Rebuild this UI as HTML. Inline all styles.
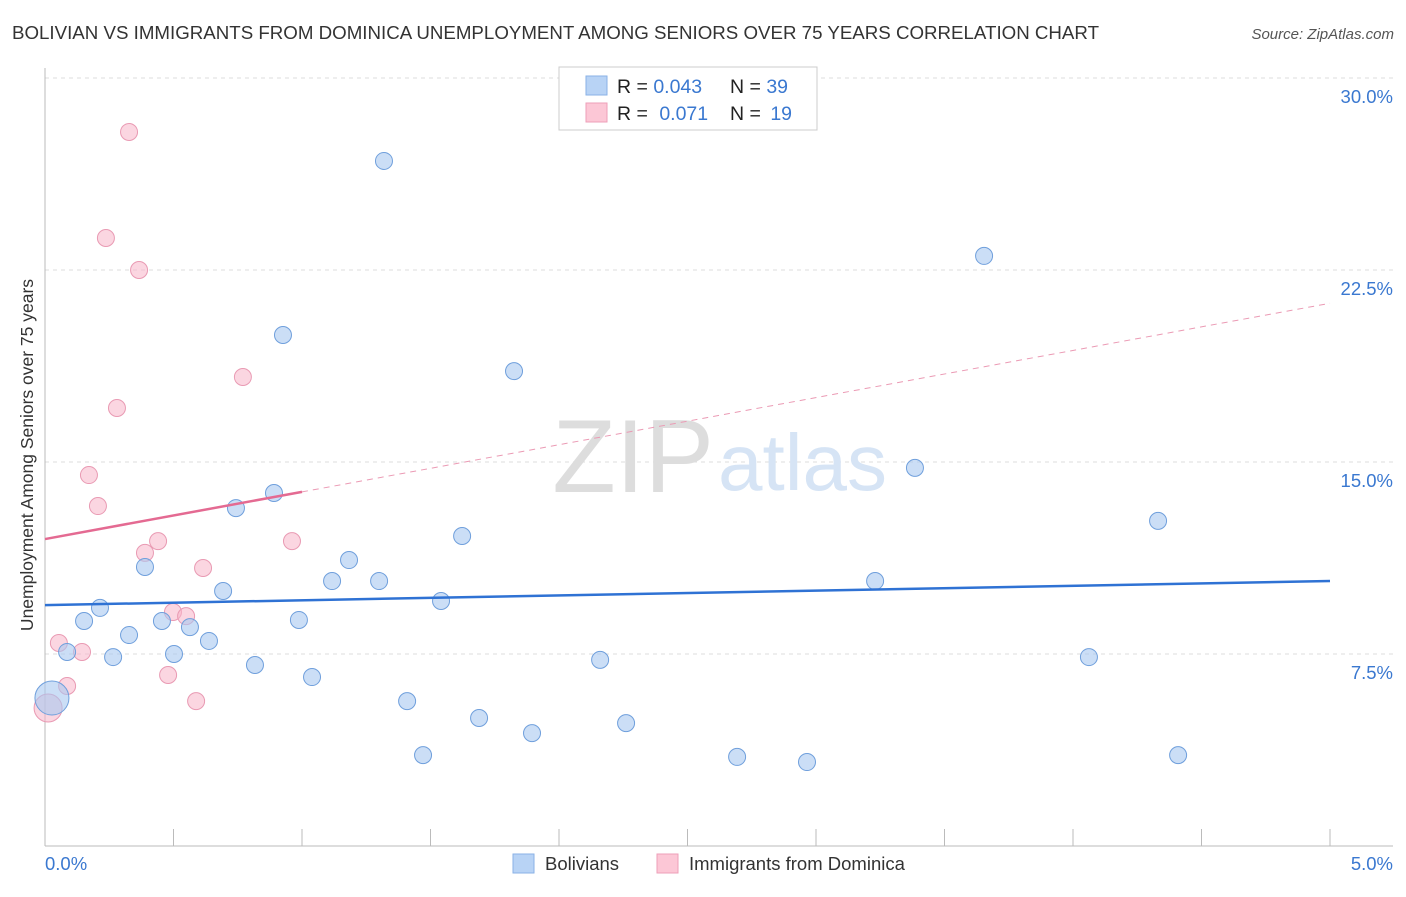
<!DOCTYPE html>
<html><head><meta charset="utf-8"><style>
body{margin:0;background:#fff;font-family:"Liberation Sans",sans-serif;}
svg text{font-family:"Liberation Sans",sans-serif;}
</style></head><body>
<svg id="c" width="1406" height="892" xmlns="http://www.w3.org/2000/svg">
<text x="12" y="39" font-size="18.3" fill="#333" textLength="1087" lengthAdjust="spacingAndGlyphs">BOLIVIAN VS IMMIGRANTS FROM DOMINICA UNEMPLOYMENT AMONG SENIORS OVER 75 YEARS CORRELATION CHART</text>
<text x="1394" y="39" font-size="15" fill="#555" text-anchor="end" font-style="italic">Source: ZipAtlas.com</text>
<g id="grid"></g>
<text x="714" y="492" font-size="104" fill="#ddd" text-anchor="end" font-family="Liberation Serif">ZIP</text>
<text x="718" y="490" font-size="80" fill="#d6e4f5">atlas</text>
<g id="marks"></g>
<text transform="translate(33,455) rotate(-90)" font-size="17.5" fill="#333" text-anchor="middle">Unemployment Among Seniors over 75 years</text>
<g>
<rect x="559" y="67" width="258" height="63" fill="#fff" stroke="#ccc"/>
<rect x="586" y="76" width="21" height="19" fill="#b8d3f5" stroke="#8ab2e6"/>
<rect x="586" y="103" width="21" height="19" fill="#fcc7d6" stroke="#ee9fb8"/>
<text x="617" y="93" font-size="19.5" fill="#222">R = <tspan fill="#3a78d0">0.043</tspan></text>
<text x="730" y="93" font-size="19.5" fill="#222">N = <tspan fill="#3a78d0">39</tspan></text>
<text x="617" y="120" font-size="19.5" fill="#222">R = <tspan fill="#3a78d0" dx="6">0.071</tspan></text>
<text x="730" y="120" font-size="19.5" fill="#222">N = <tspan fill="#3a78d0" dx="4">19</tspan></text>
</g>
<g>
<rect x="513" y="854" width="21" height="19" fill="#b8d3f5" stroke="#8ab2e6"/>
<text x="545" y="870" font-size="18.5" fill="#333">Bolivians</text>
<rect x="657" y="854" width="21" height="19" fill="#fcc7d6" stroke="#ee9fb8"/>
<text x="689" y="870" font-size="18.5" fill="#333">Immigrants from Dominica</text>
</g>
</svg>
<script>
const blueX=[0.027,0.086,0.152,0.214,0.265,0.327,0.389,0.455,0.502,0.564,0.638,0.693,0.743,0.817,0.891,0.926,0.988,1.039,1.117,1.183,1.300,1.319,1.409,1.471,1.541,1.623,1.689,1.825,1.895,2.160,2.261,2.693,2.965,3.230,3.385,3.654,4.062,4.331,4.409];
const blueY=[5.78,7.58,8.79,9.30,7.38,8.24,10.90,8.79,7.50,8.55,8.01,9.96,13.20,7.07,13.79,19.96,8.83,6.60,10.35,11.17,10.35,26.76,5.66,3.55,9.57,12.11,5.00,18.55,4.41,7.27,4.80,3.48,3.28,10.35,14.77,23.05,7.38,12.70,3.55];
const pinkX=[0.012,0.054,0.086,0.144,0.171,0.206,0.237,0.280,0.327,0.366,0.389,0.440,0.479,0.498,0.549,0.588,0.615,0.770,0.961];
const pinkY=[5.39,7.93,6.25,7.58,14.49,13.28,23.75,17.11,27.89,22.50,11.45,11.91,6.68,9.14,8.98,5.66,10.86,18.32,11.91];
const blueTrend=[9.41,10.35];
const pinkTrend=[11.99,21.2];
const pinkSolidEnd=1.0;
const yTicks=[7.5,15,22.5,30];
const yTickLabels=["7.5%","15.0%","22.5%","30.0%"];
const NS="http://www.w3.org/2000/svg";
const sx=v=>45+v/5*1285, sy=v=>846-v*25.6;
function mk(tag,attrs,parent){const e=document.createElementNS(NS,tag);for(const k in attrs)e.setAttribute(k,attrs[k]);parent.appendChild(e);return e;}
const grid=document.getElementById('grid'), marks=document.getElementById('marks');
yTicks.forEach((t,i)=>{
 const l=mk('line',{x1:45,x2:1393,y1:sy(t),y2:sy(t),stroke:'#ddd','stroke-dasharray':'4,4'},grid);
 
 
 const tx=mk('text',{x:1393,y:sy(t)+25,'font-size':18.5,fill:'#3a78d0','text-anchor':'end'},grid);
 tx.textContent=yTickLabels[i];
 
 
});
const ax=mk('line',{x1:45,x2:45,y1:68,y2:846,stroke:'#bbb'},grid);


const bx=mk('line',{x1:45,x2:1393,y1:846,y2:846,stroke:'#bbb'},grid);


for(let i=0;i<=10;i++){
 const t=mk('line',{x1:sx(i*0.5),x2:sx(i*0.5),y1:829,y2:846,stroke:'#bbb'},grid);
 
 
}
[[0,"0.0%","start",45],[5,"5.0%","end",1393]].forEach(d=>{
 const t=mk('text',{x:d[3],y:870,'font-size':18.5,fill:'#3a78d0','text-anchor':d[2]},grid);
 t.textContent=d[1];
 
 
});
pinkX.forEach((x,i)=>{
 const c=mk('circle',{cx:sx(x),cy:sy(pinkY[i]),r:i==0?14:8.5,fill:'rgba(248,180,200,0.55)',stroke:'#e99ab3','stroke-width':1},marks);
 
 
});
blueX.forEach((x,i)=>{
 const c=mk('circle',{cx:sx(x),cy:sy(blueY[i]),r:i==0?17:8.5,fill:'rgba(168,200,240,0.6)',stroke:'#6f9fdc','stroke-width':1},marks);
 
 
});
const bl=mk('line',{x1:sx(0),y1:sy(blueTrend[0]),x2:sx(5),y2:sy(blueTrend[1]),stroke:'#2f72d4','stroke-width':2.5},marks);


const py=x=>pinkTrend[0]+(pinkTrend[1]-pinkTrend[0])*x/5;
const pd=mk('line',{x1:sx(pinkSolidEnd),y1:sy(py(pinkSolidEnd)),x2:sx(5),y2:sy(py(5)),stroke:'#eb9ab4','stroke-width':1,'stroke-dasharray':'6,5'},marks);


const ps=mk('line',{x1:sx(0),y1:sy(py(0)),x2:sx(pinkSolidEnd),y2:sy(py(pinkSolidEnd)),stroke:'#e46a92','stroke-width':2.5},marks);


</script>
</body></html>
